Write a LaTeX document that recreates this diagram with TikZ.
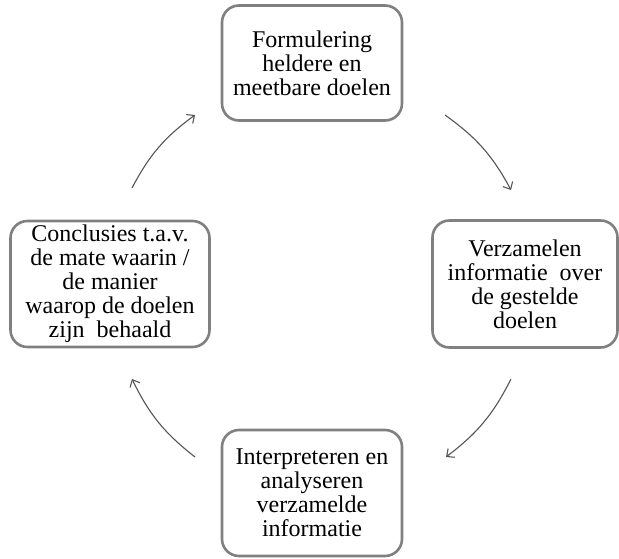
\documentclass[tikz,border=0pt]{standalone}
\usepackage{fontspec}
\setmainfont{Liberation Serif}
\usetikzlibrary{arrows.meta, positioning}
\definecolor{boxgray}{RGB}{128,128,128}
\definecolor{arrowgray}{RGB}{85,85,85}
\tikzset{
    cycle box/.style = {draw=boxgray, line width=2.6pt, rounded corners=17pt,
        align=center, inner sep=0pt, font=\fontsize{24}{24}\selectfont},
    cycle arrow/.style = {draw=arrowgray, line width=1.1pt,
        -{Straight Barb[length=6pt,width=11pt]}},
}

\begin{document}
\begin{tikzpicture}[x=1pt, y=-1pt]
    \useasboundingbox (0,0) rectangle (619,559);

    \node[cycle box, minimum width=180pt, minimum height=115pt] (doelen) at (312, 63)
        {Formulering\\heldere en\\meetbare doelen};
    \node[cycle box, minimum width=185pt, minimum height=127pt] (verzamelen) at (525, 284)
        {Verzamelen\\informatie\ \ over\\de gestelde\\doelen};
    \node[cycle box, minimum width=180pt, minimum height=126pt] (analyse) at (312, 493)
        {Interpreteren en\\analyseren\\verzamelde\\informatie};
    \node[cycle box, minimum width=199pt, minimum height=126pt] (conclusie) at (110, 284)
        {Conclusies t.a.v.\\de mate waarin /\\de manier\\waarop de doelen\\zijn\ \ behaald};

    % ends of the arrows round the cycle
    \coordinate (a1) at (445, 115);
    \coordinate (b1) at (511, 190);
    \coordinate (a2) at (511, 379);
    \coordinate (b2) at (446, 457);
    \coordinate (a3) at (195, 457);
    \coordinate (b3) at (132, 379);
    \coordinate (a4) at (132, 188);
    \coordinate (b4) at (195, 115);

    \draw[cycle arrow] (a1) to[bend left=13] (b1);
    \draw[cycle arrow] (a2) to[bend left=13] (b2);
    \draw[cycle arrow] (a3) to[bend left=13] (b3);
    \draw[cycle arrow] (a4) to[bend left=13] (b4);
\end{tikzpicture}
\end{document}
